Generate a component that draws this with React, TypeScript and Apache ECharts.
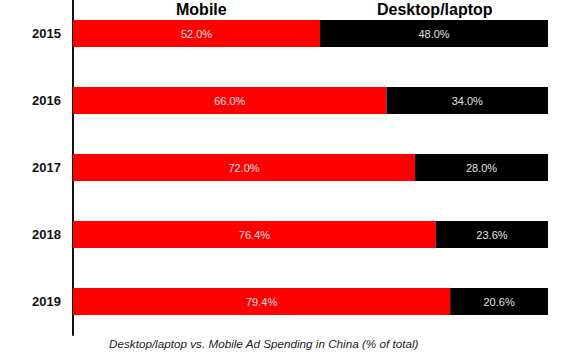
import React, { useEffect, useRef } from "react";
import * as echarts from "echarts";

const years = ["2015", "2016", "2017", "2018", "2019"];
const seriesNames = ["Mobile", "Desktop/laptop"];
const mobile = [52.0, 66.0, 72.0, 76.4, 79.4];
const desktop = [48.0, 34.0, 28.0, 23.6, 20.6];
const chartTitle = "Desktop/laptop vs. Mobile Ad Spending in China (% of total)";

export default function App() {
  const ref = useRef<HTMLDivElement>(null);
  useEffect(() => {
    const chart = echarts.init(ref.current!, null, { renderer: "svg" });
    const labelStyle = {
      show: true,
      position: "inside" as const,
      color: "#e0e0e0",
      fontSize: 11,
      fontFamily: "Liberation Sans, Arial, sans-serif",
      formatter: (p: any) => Number(p.value).toFixed(1) + "%",
    };
    chart.setOption({
      animation: false,
      backgroundColor: "#ffffff",
      grid: { left: 73, right: 31, top: 0, height: 335 },
      xAxis: {
        type: "value",
        min: 0,
        max: 100,
        show: false,
      },
      yAxis: {
        type: "category",
        data: years,
        inverse: true,
        axisLine: { show: true, lineStyle: { color: "#111", width: 2 } },
        axisTick: { show: false },
        axisLabel: {
          color: "#111",
          fontWeight: "bold",
          fontSize: 13,
          margin: 12,
          fontFamily: "Liberation Sans, Arial, sans-serif",
        },
        splitLine: { show: false },
      },
      graphic: [
        {
          type: "text",
          left: 176,
          top: 1,
          style: {
            text: seriesNames[0],
            fontSize: 16,
            fontWeight: 900,
            fill: "#000",
            fontFamily: "Liberation Sans, Arial, sans-serif",
          },
        },
        {
          type: "text",
          left: 377,
          top: 1,
          style: {
            text: seriesNames[1],
            fontSize: 16,
            fontWeight: 900,
            fill: "#000",
            fontFamily: "Liberation Sans, Arial, sans-serif",
          },
        },
        {
          type: "text",
          left: 109,
          top: 337,
          style: {
            text: chartTitle,
            fontSize: 11.7,
            fontStyle: "italic",
            fill: "#222",
            fontFamily: "Liberation Sans, Arial, sans-serif",
          },
        },
      ],
      series: [
        {
          name: seriesNames[0],
          type: "bar",
          stack: "total",
          data: mobile,
          barWidth: 27,
          itemStyle: { color: "#ff0000" },
          label: labelStyle,
        },
        {
          name: seriesNames[1],
          type: "bar",
          stack: "total",
          data: desktop,
          barWidth: 27,
          itemStyle: { color: "#000000" },
          label: labelStyle,
        },
      ],
    });
    return () => chart.dispose();
  }, []);
  return (
    <div
      ref={ref}
      style={{ position: "fixed", left: 0, top: 0, width: 579, height: 363 }}
    />
  );
}
